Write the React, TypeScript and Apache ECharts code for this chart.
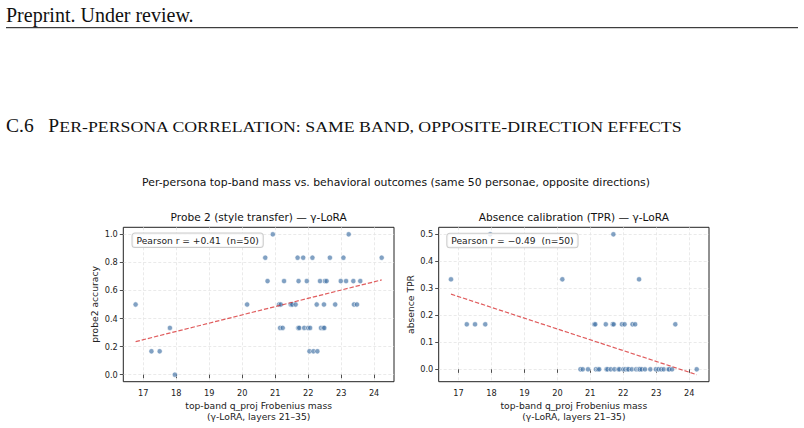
import React, { useEffect, useRef } from 'react';
import * as echarts from 'echarts';

// top-band q_proj Frobenius mass per persona (γ-LoRA, layers 21–35)
const personaMass = [
  16.77, 17.25, 17.5, 17.81, 17.96, 20.15, 20.7, 20.77, 20.93, 21.12,
  21.15, 21.17, 21.23, 21.27, 21.47, 21.49, 21.52, 21.62, 21.68, 21.7,
  21.71, 21.73, 21.85, 21.88, 21.96, 22.0, 22.04, 22.06, 22.13, 22.16,
  22.26, 22.28, 22.36, 22.39, 22.46, 22.48, 22.49, 22.51, 22.56, 22.66,
  22.82, 22.99, 23.07, 23.15, 23.23, 23.37, 23.39, 23.48, 23.58, 24.23,
];
const probe2Accuracy = [
  0.5, 0.1667, 0.1667, 0.3333, 0, 0.5, 0.8333, 0.6667, 1, 0.5,
  0.3333, 0.5, 0.3333, 0.6667, 0.5, 0.5, 0.5, 0.5, 0.8333, 0.3333,
  0.6667, 0.3333, 0.8333, 0.3333, 0.6667, 0.3333, 0.1667, 0.3333, 0.8333, 0.1667,
  0.5, 0.1667, 0.6667, 0.3333, 0.3333, 0.5, 0.3333, 0.6667, 0.6667, 0.8333,
  0.5, 0.6667, 0.8333, 0.6667, 1, 0.6667, 0.5, 0.5, 0.6667, 0.8333,
];
const absenceTPR = [
  0.3333, 0.1667, 0.1667, 0.1667, 0.5, 0.3333, 0, 0, 0, 0.1667,
  0.1667, 0, 0, 0, 0.1667, 0, 0, 0, 0.1667, 0.5,
  0.1667, 0, 0, 0, 0.1667, 0, 0.1667, 0, 0, 0,
  0, 0.1667, 0.1667, 0, 0, 0.3333, 0, 0, 0, 0,
  0, 0, 0, 0, 0, 0, 0, 0, 0.1667, 0,
];
const massTicks = [17, 18, 19, 20, 21, 22, 23, 24];
const probe2Ticks = [0, 0.2, 0.4, 0.6, 0.8, 1.0];
const tprTicks = [0, 0.1, 0.2, 0.3, 0.4, 0.5];
const pearsonProbe2 = 'Pearson r = +0.41  (n=50)';
const pearsonTPR = 'Pearson r = \u22120.49  (n=50)';

const SANS = "'DejaVu Sans', sans-serif";
const SERIF = "'Liberation Serif', 'Times New Roman', serif";
const INK = '#222';

function fitLine(xs: number[], ys: number[]) {
  const n = xs.length;
  const mx = xs.reduce((a, b) => a + b, 0) / n;
  const my = ys.reduce((a, b) => a + b, 0) / n;
  let sxy = 0, sxx = 0;
  for (let i = 0; i < n; i++) {
    sxy += (xs[i] - mx) * (ys[i] - my);
    sxx += (xs[i] - mx) * (xs[i] - mx);
  }
  const b = sxy / sxx;
  const a = my - b * mx;
  const lo = Math.min(...xs), hi = Math.max(...xs);
  return [[lo, a + b * lo], [hi, a + b * hi]];
}
function pad(lo: number, hi: number) {
  const r = hi - lo;
  return [lo - 0.05 * r, hi + 0.05 * r];
}

export default function App() {
  const ref = useRef<HTMLDivElement>(null);
  useEffect(() => {
    if (!ref.current) return;
    const chart = echarts.init(ref.current, undefined, { renderer: 'svg' });
    const fitA = fitLine(personaMass, probe2Accuracy);
    const fitB = fitLine(personaMass, absenceTPR);
    const xr = pad(Math.min(...personaMass), Math.max(...personaMass));
    const yA = pad(
      Math.min(...probe2Accuracy, fitA[0][1], fitA[1][1]),
      Math.max(...probe2Accuracy, fitA[0][1], fitA[1][1])
    );
    const yB = pad(
      Math.min(...absenceTPR, fitB[0][1], fitB[1][1]),
      Math.max(...absenceTPR, fitB[0][1], fitB[1][1])
    );

    const gridBox = {
      show: true,
      borderColor: INK,
      borderWidth: 1,
      backgroundColor: 'transparent',
      top: 227.3,
      height: 154.4,
    };
    const xAxis = (gi: number) => ({
      type: 'value',
      gridIndex: gi,
      min: xr[0],
      max: xr[1],
      splitNumber: 8,
      name: 'top-band q_proj Frobenius mass\n(\u03b3-LoRA, layers 21\u201335)',
      nameLocation: 'middle',
      nameGap: 18.5,
      nameTextStyle: { fontSize: 9.2, color: INK, fontFamily: SANS, lineHeight: 11 },
      axisLine: { show: false },
      axisTick: { show: true, inside: false, length: 3.5, customValues: massTicks, lineStyle: { color: INK, width: 0.8 } },
      axisLabel: { customValues: massTicks, fontSize: 8.2, color: INK, margin: 7.5, fontFamily: SANS },
      splitLine: { show: true, lineStyle: { color: '#e4e4e4', width: 0.8, type: [3, 2] } },
    });
    const yAxis = (gi: number, r: number[], ticks: number[], name: string, split: number) => ({
      type: 'value',
      gridIndex: gi,
      min: r[0],
      max: r[1],
      splitNumber: split,
      name,
      nameLocation: 'middle',
      nameGap: 24,
      nameTextStyle: { fontSize: 9.2, color: INK, fontFamily: SANS },
      axisLine: { show: false },
      axisTick: { show: true, inside: false, length: 3.5, customValues: ticks, lineStyle: { color: INK, width: 0.8 } },
      axisLabel: {
        customValues: ticks,
        fontSize: 8.2,
        color: INK,
        margin: 5.5,
        fontFamily: SANS,
        formatter: (v: number) => v.toFixed(1),
      },
      splitLine: { show: true, lineStyle: { color: '#e4e4e4', width: 0.8, type: [3, 2] } },
    });

    const scatterStyle = {
      color: 'rgba(70,116,166,0.85)',
      borderColor: 'rgba(255,255,255,0.85)',
      borderWidth: 0.8,
    };
    const lineStyle = { color: 'rgba(214,39,40,0.75)', width: 1.2, type: [4.4, 1.9] };

    const text = (x: number, y: number, t: string, font: string, align = 'center', extra: any = {}) => ({
      type: 'text',
      x,
      y,
      z: 100,
      ...extra,
      style: { text: t, font, fill: '#111', align, verticalAlign: 'middle' },
    });
    const box = (x: number, y: number, t: string) => ({
      type: 'text',
      x,
      y,
      z: 100,
      style: {
        text: t,
        font: `9.15px ${SANS}`,
        fill: INK,
        align: 'left',
        verticalAlign: 'top',
        lineHeight: 10,
        backgroundColor: 'rgba(255,255,255,0.8)',
        borderColor: '#cccccc',
        borderWidth: 1,
        borderRadius: 2.5,
        padding: [2, 4, 1.5, 4],
      },
    });

    chart.setOption({
      animation: false,
      backgroundColor: '#ffffff',
      grid: [
        { ...gridBox, left: 123.3, width: 270.7 },
        { ...gridBox, left: 438.7, width: 270.3 },
      ],
      xAxis: [xAxis(0), xAxis(1)],
      yAxis: [
        yAxis(0, yA, probe2Ticks, 'probe2 accuracy', 6),
        yAxis(1, yB, tprTicks, 'absence TPR', 6),
      ],
      series: [
        {
          type: 'scatter',
          xAxisIndex: 0,
          yAxisIndex: 0,
          symbolSize: 5.2,
          itemStyle: scatterStyle,
          data: personaMass.map((x, i) => [x, probe2Accuracy[i]]),
          z: 2,
        },
        {
          type: 'line',
          xAxisIndex: 0,
          yAxisIndex: 0,
          showSymbol: false,
          symbol: 'none',
          lineStyle,
          data: fitA,
          z: 3,
        },
        {
          type: 'scatter',
          xAxisIndex: 1,
          yAxisIndex: 1,
          symbolSize: 5.2,
          itemStyle: scatterStyle,
          data: personaMass.map((x, i) => [x, absenceTPR[i]]),
          z: 2,
        },
        {
          type: 'line',
          xAxisIndex: 1,
          yAxisIndex: 1,
          showSymbol: false,
          symbol: 'none',
          lineStyle,
          data: fitB,
          z: 3,
        },
      ],
      graphic: [
        text(6, 15, 'Preprint. Under review.', `20px ${SERIF}`, 'left', {}),
        {
          type: 'line',
          z: 100,
          shape: { x1: 6, y1: 27.7, x2: 798, y2: 27.7 },
          style: { stroke: '#111', lineWidth: 1 },
        },
        text(6, 125.8, 'C.6', `19.5px ${SERIF}`, 'left'),
        text(48.3, 125.8, 'P', `19.5px ${SERIF}`, 'left'),
        text(59.3, 127, 'ER-PERSONA CORRELATION: SAME BAND, OPPOSITE-DIRECTION EFFECTS', `15.5px ${SERIF}`, 'left', { scaleX: 1.148 }),
        text(396, 182, 'Per-persona top-band mass vs. behavioral outcomes (same 50 personae, opposite directions)', `10.85px ${SANS}`),
        text(258.7, 216.5, 'Probe 2 (style transfer) \u2014 \u03b3-LoRA', `10.6px ${SANS}`),
        text(573.9, 216.5, 'Absence calibration (TPR) \u2014 \u03b3-LoRA', `10.6px ${SANS}`),
        box(132.5, 233.5, pearsonProbe2),
        box(447.3, 233.8, pearsonTPR),
      ],
    });
    return () => chart.dispose();
  }, []);
  return (
    <div
      ref={ref}
      style={{ position: 'absolute', left: 0, top: 0, width: 804, height: 428, background: '#fff' }}
    />
  );
}
